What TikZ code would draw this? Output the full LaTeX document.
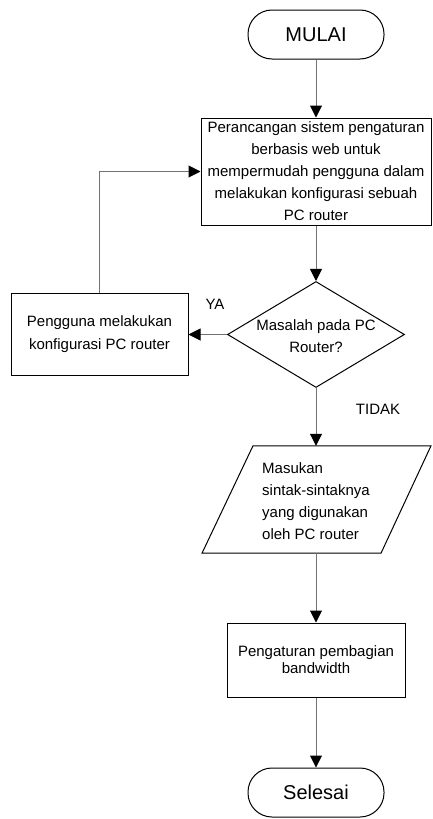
\documentclass[tikz,border=0pt]{standalone}
\usepackage{fontspec}
\setmainfont{Liberation Sans}
\usetikzlibrary{arrows.meta,shapes.geometric,calc}
\tikzset{
  txt/.style={font=\fontsize{15}{22}\selectfont},
  terminal/.style={draw=black, line width=1pt, rounded corners=24pt, minimum width=136pt, minimum height=49pt, inner sep=0pt, font=\fontsize{20}{24}\selectfont},
  procbox/.style={draw=black, line width=1pt, inner sep=1pt, align=center},
  decision/.style={draw=black, line width=1pt, diamond, minimum width=177pt, minimum height=106pt, inner sep=0pt},
  ghost/.style={inner sep=0pt},
  conn/.style={draw=black!55, line width=1pt, -{Triangle[length=12pt,width=12pt,color=black]}},
  lbl/.style={font=\fontsize{15}{18}\selectfont}
}
\begin{document}
\begin{tikzpicture}[x=1pt,y=1pt]
\useasboundingbox (0,0) rectangle (432,-819);
% nodes
\node[terminal] (start) at (316,-34.5) {MULAI};
\node[procbox, txt, minimum width=230pt, minimum height=107pt] (design) at (316,-171.5)
  {Perancangan sistem pengaturan\\berbasis web untuk\\mempermudah pengguna dalam\\melakukan konfigurasi sebuah\\PC router};
\node[decision] (dec) at (316,-334.5) {};
\node[txt, align=center, inner sep=0pt] (dectext) at (316,-336) {Masalah pada PC\\Router?};
\node[procbox, font=\fontsize{15}{23}\selectfont, minimum width=177pt, minimum height=82pt] (user) at (99.5,-334.5)
  {Pengguna melakukan\\konfigurasi PC router};
\node[ghost, minimum width=130pt, minimum height=107pt] (io) at (316,-499.5) {};
\draw[black, line width=1pt] ($(io.north)+(-63,0)$) -- ($(io.north)+(115,0)$) -- ($(io.south)+(65,0)$) -- ($(io.south)+(-114,0)$) -- cycle;
\node[txt, align=left, anchor=west, inner sep=0pt] (iotext) at (262,-501)
  {Masukan\\sintak-sintaknya\\yang digunakan\\oleh PC router};
\node[procbox, font=\fontsize{15}{17}\selectfont, minimum width=178pt, minimum height=74pt] (bw) at (316,-660)
  {Pengaturan pembagian\\bandwidth};
\node[terminal] (stop) at (316,-792.5) {Selesai};
% labels
\node[lbl] (ya) at (215,-304) {YA};
\node[lbl] (tidak) at (378,-409) {TIDAK};
% connectors
\draw[conn] (start) -- (design);
\draw[conn] (design) -- (dec);
\draw[conn] (dec.west) -- (user.east);
\draw[conn] (user.north) |- (design.west);
\draw[conn] (dec.south) -- (io.north);
\draw[conn] (io.south) -- (bw.north);
\draw[conn] (bw.south) -- (stop.north);
\end{tikzpicture}
\end{document}
